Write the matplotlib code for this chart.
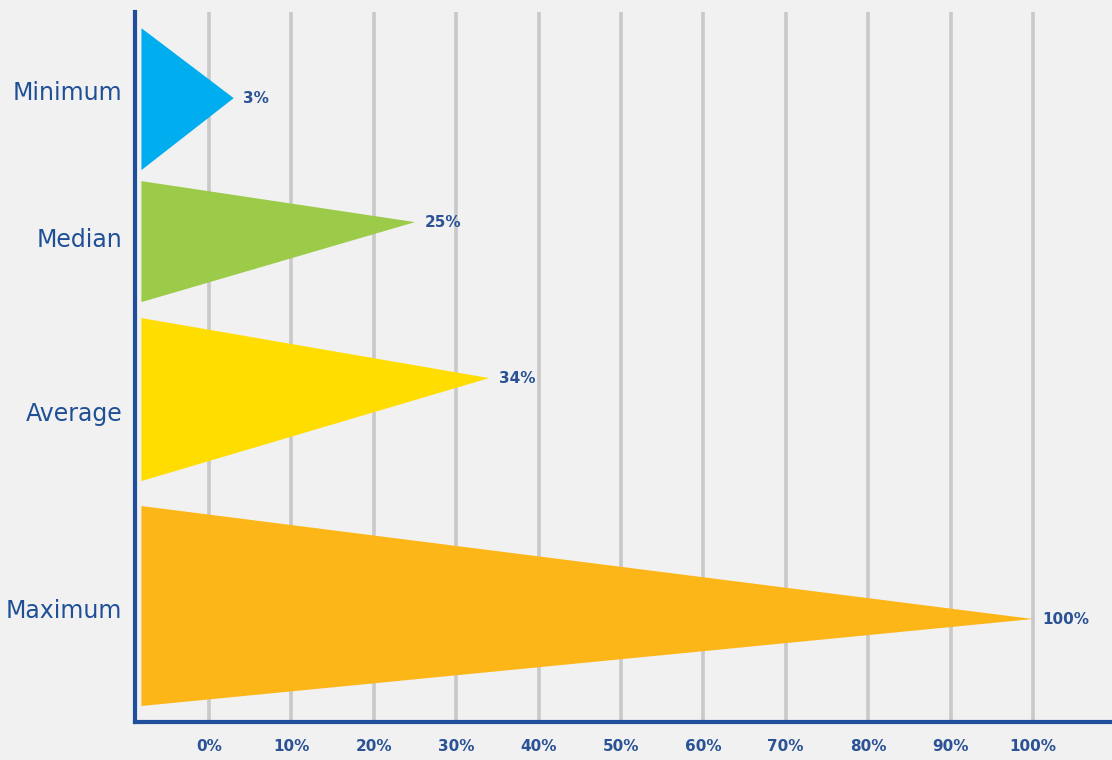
import matplotlib
matplotlib.use("Agg")
import matplotlib.pyplot as plt
from matplotlib.patches import Polygon

# ---- data ----
categories = ["Minimum", "Median", "Average", "Maximum"]
values = [3, 25, 34, 100]
value_labels = ["3%", "25%", "34%", "100%"]
colors = ["#00AEEF", "#9CCB4A", "#FFDD00", "#FDB618"]
x_ticks = [0, 10, 20, 30, 40, 50, 60, 70, 80, 90, 100]
x_tick_labels = ["0%", "10%", "20%", "30%", "40%", "50%", "60%", "70%", "80%", "90%", "100%"]

# ---- layout (vertical geometry of each triangle, in axis units from top) ----
base_top = [16, 169, 306, 494]
base_bottom = [158, 290, 469, 694]
tip_y = [86, 210, 366, 607]
label_y = [78, 225, 399, 596]
base_x = -8.2

BG = "#F1F1F1"
BLUE = "#1F4E9A"
TXT = "#2A5294"

fig = plt.figure(figsize=(11.12, 7.6), dpi=100, facecolor=BG)
ax = fig.add_axes([0.1214, 0.05, 0.8786, 0.934])
ax.set_facecolor(BG)
ax.set_xlim(-8.98, 109.6)
ax.set_ylim(710, 0)

for xt in x_ticks:
    ax.axvline(xt, color="#C9C9C9", lw=2.6, zorder=0)

for i, v in enumerate(values):
    poly = Polygon([(base_x, base_top[i]), (v, tip_y[i]), (base_x, base_bottom[i])],
                   closed=True, facecolor=colors[i], edgecolor="none", zorder=2)
    ax.add_patch(poly)
    ax.annotate(value_labels[i], xy=(v, tip_y[i]), xytext=(7, 0), textcoords="offset points",
                ha="left", va="center", fontsize=11, color=TXT, fontweight="semibold", zorder=3)

ax.set_xticks(x_ticks)
ax.set_xticklabels(x_tick_labels, fontsize=11, color=TXT, fontweight="semibold")
ax.set_yticks(label_y)
ax.set_yticklabels(categories, fontsize=17, color="#1F5096")
ax.tick_params(axis="x", length=0, pad=12)
ax.tick_params(axis="y", length=0, pad=9)

for s in ["top", "right"]:
    ax.spines[s].set_visible(False)
for s in ["left", "bottom"]:
    ax.spines[s].set_color(BLUE)
    ax.spines[s].set_linewidth(3)

fig.savefig("out.png", dpi=100, facecolor=BG)
